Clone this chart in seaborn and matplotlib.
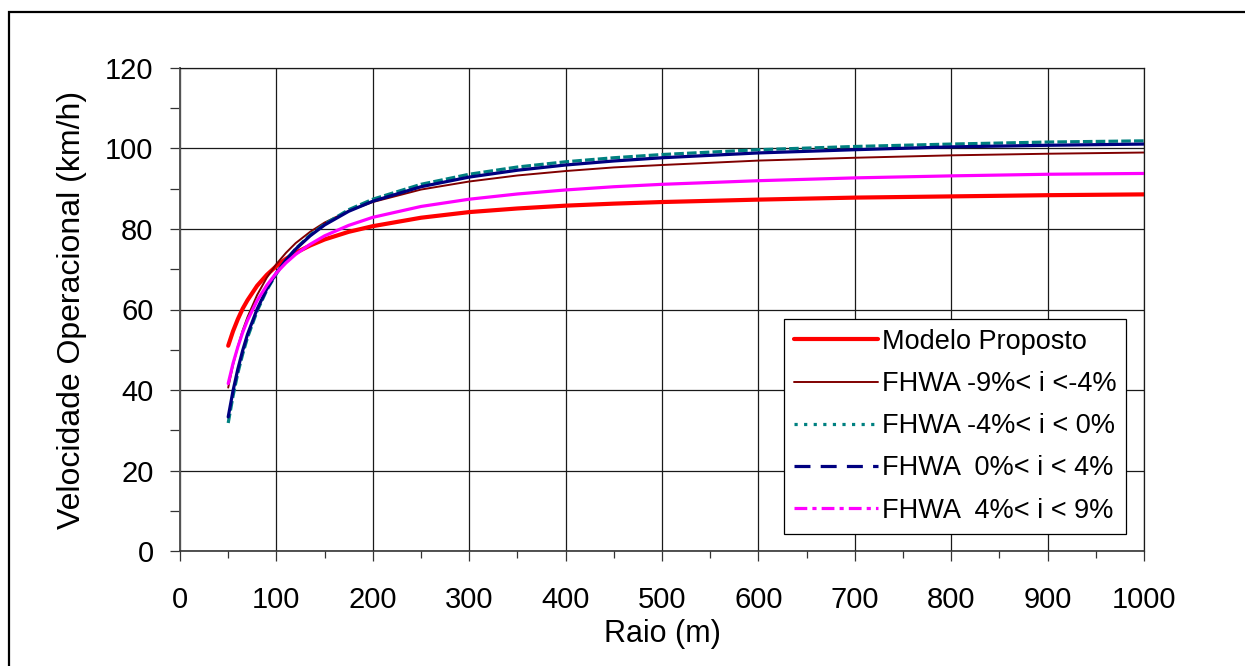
import matplotlib
matplotlib.use("Agg")
import matplotlib.pyplot as plt
from matplotlib.lines import Line2D
from matplotlib.patches import Rectangle
from matplotlib.ticker import MultipleLocator
import seaborn as sns
import pandas as pd

# Operating speed (km/h) versus curve radius (m)
raio = [50, 55, 60, 65, 70, 80, 90, 100, 110, 120, 135, 150, 175, 200,
        250, 300, 350, 400, 450, 500, 600, 700, 800, 900, 1000]

modelo_proposto = [51.0, 54.6, 57.6, 60.2, 62.3, 65.9, 68.6, 70.8, 72.6, 74.1,
                   75.9, 77.4, 79.3, 80.7, 82.8, 84.2, 85.1, 85.8, 86.3, 86.7,
                   87.3, 87.8, 88.1, 88.4, 88.6]
fhwa_m9_m4 = [40.6, 46.2, 50.8, 54.8, 58.1, 63.6, 67.9, 71.3, 74.1, 76.5,
              79.3, 81.6, 84.5, 86.7, 89.8, 91.8, 93.3, 94.4, 95.3, 95.9,
              97.0, 97.7, 98.3, 98.7, 99.0]
fhwa_m4_0 = [31.8, 38.5, 44.2, 48.9, 53.0, 59.6, 64.8, 68.9, 72.3, 75.1,
             78.5, 81.2, 84.8, 87.4, 91.1, 93.6, 95.4, 96.7, 97.7, 98.5,
             99.7, 100.5, 101.1, 101.6, 101.9]
fhwa_0_4 = [33.3, 39.8, 45.2, 49.8, 53.8, 60.1, 65.1, 69.1, 72.3, 75.0,
            78.3, 81.0, 84.4, 86.9, 90.5, 92.9, 94.6, 95.9, 96.9, 97.7,
            98.9, 99.7, 100.4, 100.8, 101.1]
fhwa_4_9 = [41.6, 46.6, 50.7, 54.3, 57.3, 62.2, 66.0, 69.1, 71.6, 73.7,
            76.2, 78.3, 80.9, 82.9, 85.6, 87.4, 88.7, 89.7, 90.5, 91.1,
            92.0, 92.7, 93.2, 93.6, 93.8]

labels = ["Modelo Proposto", "FHWA -9%< i <-4%", "FHWA -4%< i < 0%",
          "FHWA  0%< i < 4%", "FHWA  4%< i < 9%"]
series = [modelo_proposto, fhwa_m9_m4, fhwa_m4_0, fhwa_0_4, fhwa_4_9]
colors = ["#FF0000", "#800000", "#008080", "#000080", "#FF00FF"]
widths = [3.0, 1.4, 2.3, 2.3, 2.3]
plot_styles = ["-", "-", (0, (3, 1)), "-", "-"]
legend_styles = ["-", "-", (0, (1, 2)), (0, (5, 3.2)), (0, (4, 1.6, 1.3, 1.6))]

sns.set_theme(style="white")
plt.rcParams["font.family"] = ["Liberation Sans", "DejaVu Sans"]
plt.rcParams["text.color"] = "black"
plt.rcParams["axes.labelcolor"] = "black"

fig = plt.figure(figsize=(12.45, 6.66), dpi=100)
ax = fig.add_axes([180 / 1245, 1 - 551 / 666, (1144 - 180) / 1245, (551 - 68) / 666])

df = pd.DataFrame({"raio": raio})
for lab, vals, col, lw, ls in zip(labels, series, colors, widths, plot_styles):
    df[lab] = vals
    sns.lineplot(data=df, x="raio", y=lab, ax=ax, color=col, lw=lw,
                 linestyle=ls, legend=False)

ax.set_xlim(0, 1000)
ax.set_ylim(0, 120)
ax.xaxis.set_major_locator(MultipleLocator(100))
ax.xaxis.set_minor_locator(MultipleLocator(50))
ax.yaxis.set_major_locator(MultipleLocator(20))
ax.yaxis.set_minor_locator(MultipleLocator(10))
ax.grid(True, which="major", color="#1a1a1a", lw=0.9)
ax.set_axisbelow(True)

ax.tick_params(axis="both", which="both", direction="out", colors="#333333",
               labelcolor="black", labelsize=21)
ax.tick_params(axis="y", which="both", length=7, width=0.9, pad=12)
ax.tick_params(axis="x", which="major", length=7, width=0.9, pad=18)
ax.tick_params(axis="x", which="minor", length=5, width=0.9)
ax.tick_params(bottom=True, left=True, which="both")

for side in ["top", "right"]:
    ax.spines[side].set_color("#1a1a1a")
    ax.spines[side].set_linewidth(0.9)
ax.spines["left"].set_color("#555555")
ax.spines["left"].set_linewidth(1.4)
ax.spines["bottom"].set_color("#333333")
ax.spines["bottom"].set_linewidth(1.2)

ax.set_xlabel("Raio (m)", fontsize=22, labelpad=4, color="black")
ax.set_ylabel("Velocidade Operacional (km/h)", fontsize=23, labelpad=13,
              color="black")

handles = [Line2D([], [], color=c, lw=w, linestyle=s)
           for c, w, s in zip(colors, widths, legend_styles)]
leg = ax.legend(handles, labels, loc="upper left",
                bbox_to_anchor=(784 / 1245, 1 - 319 / 666),
                bbox_transform=fig.transFigure, fontsize=19.5, frameon=True,
                fancybox=False, edgecolor="black", framealpha=1,
                handlelength=3.1, handletextpad=0.15, labelspacing=0.6,
                borderpad=0.36, borderaxespad=0)
leg.get_frame().set_linewidth(0.9)
for t in leg.get_texts():
    t.set_color("black")

# outer chart border
fig.patches.append(Rectangle((9 / 1245, -0.2), 1.2, 1.2 + (1 - 12 / 666) - 1,
                             transform=fig.transFigure, fill=False,
                             edgecolor="black", lw=1.6))

fig.savefig("out.png", dpi=100)
